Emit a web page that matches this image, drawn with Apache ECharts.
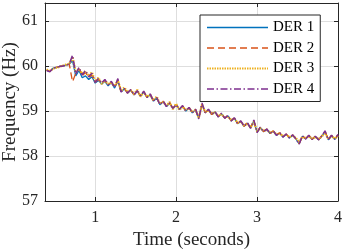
<!DOCTYPE html>
<html><head><meta charset="utf-8">
<script src="https://cdn.jsdelivr.net/npm/echarts@6/dist/echarts.min.js"></script>
<style>html,body{margin:0;padding:0;background:#fff}#c{width:345px;height:252px}</style>
</head><body><div id="c"></div>
<script>
const time = [
0.40,0.44,0.48,0.52,0.56,0.60,0.64,0.68,0.72,0.76,
0.80,0.84,0.88,0.92,0.96,1.00,1.04,1.08,1.12,1.16,
1.20,1.24,1.28,1.32,1.36,1.40,1.44,1.48,1.52,1.56,
1.60,1.64,1.68,1.72,1.76,1.80,1.84,1.88,1.92,1.96,
2.00,2.04,2.08,2.12,2.16,2.20,2.24,2.28,2.32,2.36,
2.40,2.44,2.48,2.52,2.56,2.60,2.64,2.68,2.72,2.76,
2.80,2.84,2.88,2.92,2.96,3.00,3.04,3.08,3.12,3.16,
3.20,3.24,3.28,3.32,3.36,3.40,3.44,3.48,3.52,3.56,
3.60,3.64,3.68,3.72,3.76,3.80,3.84,3.88,3.92,3.96,
4.00];
const der1 = [
59.91,59.88,59.95,59.97,59.99,60.00,60.02,60.04,60.12,59.78,
59.90,59.74,59.78,59.70,59.76,59.62,59.68,59.60,59.66,59.56,
59.63,59.51,59.66,59.43,59.49,59.40,59.46,59.36,59.44,59.33,
59.42,59.30,59.36,59.22,59.29,59.14,59.21,59.10,59.17,59.06,
59.13,59.04,59.10,59.00,59.07,58.96,59.03,58.84,59.15,58.96,
59.03,58.92,58.98,58.87,58.94,58.84,58.89,58.78,58.84,58.72,
58.77,58.66,58.73,58.62,58.78,58.53,58.63,58.54,58.59,58.50,
58.55,58.46,58.51,58.42,58.48,58.40,58.46,58.38,58.27,58.44,
58.38,58.45,58.37,58.43,58.36,58.44,58.54,58.36,58.45,58.37,
58.46];
const der2 = [
59.91,59.88,59.95,59.97,59.99,60.00,60.02,60.04,59.65,59.84,
59.94,59.78,59.86,59.74,59.80,59.64,59.70,59.61,59.68,59.57,
59.64,59.52,59.68,59.43,59.50,59.40,59.47,59.36,59.45,59.34,
59.43,59.30,59.37,59.22,59.30,59.14,59.22,59.10,59.18,59.06,
59.14,59.04,59.11,59.00,59.08,58.96,59.04,58.83,59.16,58.96,
59.04,58.92,58.99,58.87,58.95,58.84,58.90,58.78,58.85,58.72,
58.78,58.66,58.74,58.62,58.79,58.53,58.64,58.54,58.60,58.50,
58.56,58.46,58.52,58.42,58.49,58.40,58.47,58.38,58.27,58.45,
58.38,58.46,58.37,58.44,58.36,58.45,58.55,58.36,58.46,58.37,
58.47];
const der3 = [
59.92,59.89,59.94,59.96,59.98,60.01,60.03,60.05,60.20,59.86,
59.93,59.83,59.88,59.78,59.86,59.66,59.74,59.60,59.68,59.60,
59.64,59.55,59.68,59.45,59.52,59.42,59.46,59.38,59.47,59.32,
59.42,59.32,59.36,59.24,59.32,59.16,59.20,59.12,59.20,59.04,
59.16,59.02,59.10,59.02,59.06,58.98,59.02,58.85,59.14,58.98,
59.02,58.94,58.97,58.89,58.93,58.86,58.88,58.80,58.83,58.74,
58.76,58.68,58.72,58.64,58.76,58.55,58.62,58.56,58.58,58.52,
58.54,58.48,58.50,58.44,58.47,58.42,58.45,58.40,58.30,58.43,
58.40,58.44,58.39,58.42,58.38,58.43,58.52,58.38,58.44,58.39,
58.45];
const der4 = [
59.90,59.87,59.95,59.97,59.99,60.00,60.02,60.04,60.24,59.82,
59.97,59.80,59.90,59.76,59.84,59.64,59.72,59.62,59.70,59.58,
59.66,59.52,59.72,59.42,59.50,59.40,59.48,59.36,59.45,59.34,
59.44,59.30,59.38,59.22,59.30,59.14,59.22,59.10,59.18,59.06,
59.14,59.04,59.12,59.00,59.08,58.96,59.04,58.82,59.18,58.96,
59.04,58.92,58.99,58.87,58.95,58.84,58.90,58.78,58.85,58.72,
58.78,58.66,58.74,58.62,58.80,58.52,58.64,58.54,58.60,58.50,
58.56,58.46,58.52,58.42,58.49,58.40,58.47,58.38,58.26,58.45,
58.38,58.46,58.37,58.44,58.36,58.45,58.56,58.36,58.46,58.37,
58.48];
const seriesNames = ['DER 1','DER 2','DER 3','DER 4'];
const xTicks = [1,2,3,4];
const yTicks = [57,58,59,60,61];

const FONT = 'Liberation Serif';
const INK = '#262626';
const pair = (ys) => time.map((t,i)=>[t, ys[i]]);
const styles = [
  {color:'#0072BD', width:1.3, type:'solid', lw:1.4},
  {color:'#D95319', width:1.3, type:[7,4], lw:1.4},
  {color:'#EDB120', width:2.2, type:[1.5,1], lw:2},
  {color:'#7E2F8E', width:1.5, type:[7,2.5,1.5,2.5], lw:1.4}
];
const vals = [der1, der2, der3, der4];
const chart = echarts.init(document.getElementById('c'), null, {renderer:'canvas'});
const axisCommon = (isX, primary) => ({
  type:'value',
  min: isX ? 0.38 : 57,
  max: isX ? 4 : 61.4,
  axisLine:{show:true, onZero:false, lineStyle:{color:INK, width:1}},
  axisTick:{show:true, inside:true, length:4, customValues: isX ? xTicks : yTicks, lineStyle:{color:INK}},
  axisLabel:{show:primary, customValues: isX ? xTicks : yTicks, fontFamily:FONT, fontSize:16, color:INK, margin: isX ? 9 : 7},
  splitLine:{show:primary, lineStyle:{color:'#dedede', width:1}}
});
chart.setOption({
  animation:false,
  backgroundColor:'#fff',
  grid:{left:45, top:3, right:7, bottom:51, containLabel:false, outerBoundsMode:'none'},
  xAxis:[
    Object.assign(axisCommon(true,true), {position:'bottom', name:'Time (seconds)', nameLocation:'middle', nameGap:28, nameTextStyle:{fontFamily:FONT, fontSize:19, color:INK}}),
    Object.assign(axisCommon(true,false), {position:'top'})
  ],
  yAxis:[
    Object.assign(axisCommon(false,true), {position:'left', name:'Frequency (Hz)', nameLocation:'middle', nameGap:25, nameMoveOverlap:false, nameTextStyle:{fontFamily:FONT, fontSize:19, color:INK}}),
    Object.assign(axisCommon(false,false), {position:'right'})
  ],
  legend:{
    orient:'vertical', left:200, top:15,
    padding:[5,6,5,6], itemGap:5.5, itemWidth:61, itemHeight:14,
    backgroundColor:'#fff', borderColor:INK, borderWidth:1, borderRadius:0,
    itemStyle:{opacity:0},
    textStyle:{fontFamily:FONT, fontSize:15, color:'#000'},
    data: seriesNames.map((n,i)=>({name:n, lineStyle:{color:styles[i].color, width:styles[i].lw, type:styles[i].type, opacity:1}}))
  },
  series: seriesNames.map((n,i)=>({
    name:n, type:'line', data:pair(vals[i]), symbol:'none', showSymbol:false,
    lineStyle:{color:styles[i].color, width:styles[i].width, type:styles[i].type},
    itemStyle:{color:styles[i].color},
    clip:true, z: 2+i
  }))
});
</script></body></html>
